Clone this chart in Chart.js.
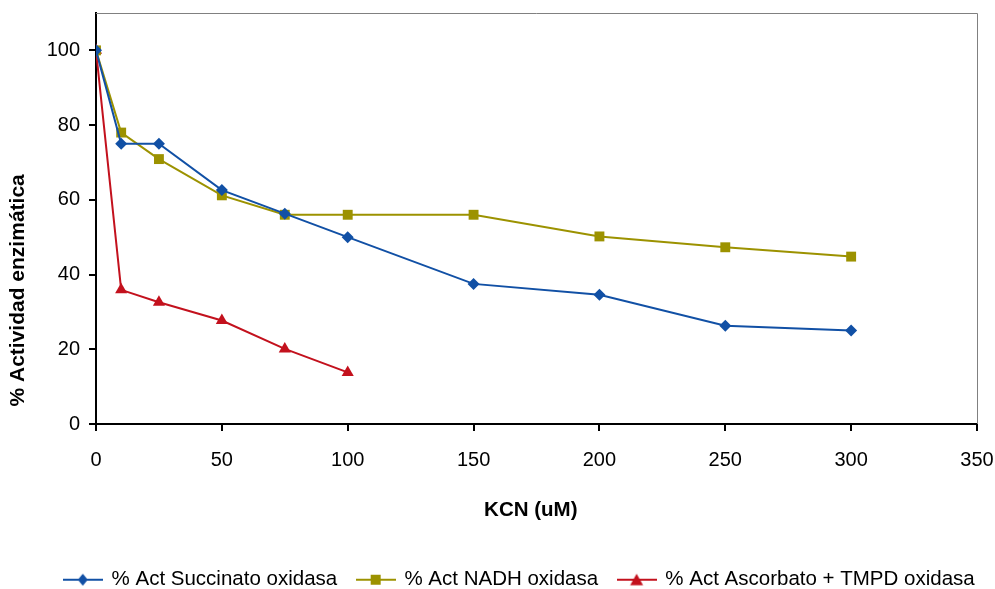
<!DOCTYPE html>
<html>
<head>
<meta charset="utf-8">
<script src="https://cdn.jsdelivr.net/npm/chart.js@4"></script>
<style>
    html, body { margin: 0; padding: 0; background: #ffffff; }
    #wrap { width: 995px; height: 589px; }
</style>
</head>
<body>
<div id="wrap"><canvas id="myChart" width="995" height="589"></canvas></div>
<script>
// datos
const kcn = [0, 10, 25, 50, 75, 100, 150, 200, 250, 300];
const kcnAscorbato = [0, 10, 25, 50, 75, 100];
const succinato = [100, 75, 75, 62.6, 56.3, 50, 37.5, 34.6, 26.3, 25];
const nadh = [100, 78, 70.9, 61.2, 56, 56, 56, 50.2, 47.3, 44.8];
const ascorbato = [100, 35.9, 32.6, 27.7, 20.1, 13.8];
const etiquetas = ['% Act Succinato oxidasa', '% Act NADH oxidasa', '% Act Ascorbato + TMPD oxidasa'];
const colores = ['#1150a5', '#9c9200', '#c3111d'];
const marcadores = ['rectRot', 'rect', 'triangle'];
const tamMarcador = [6, 7, 7];

const fuente = 'Liberation Sans, Arial, sans-serif';

function puntos(xs, ys) {
    let out = [];
    xs.forEach(function (x, i) {
        out.push({ x: x, y: ys[i] });
    });
    return out;
}

// icono de leyenda: linea con marcador en el medio
function iconoLeyenda(color, estilo) {
    let c = document.createElement('canvas');
    c.width = 40;
    c.height = 16;
    let g = c.getContext('2d');
    g.strokeStyle = color;
    g.lineWidth = 2;
    g.beginPath();
    g.moveTo(0, 8);
    g.lineTo(40, 8);
    g.stroke();
    g.fillStyle = color;
    g.beginPath();
    if (estilo === 'rectRot') {
        g.moveTo(20, 2); g.lineTo(25, 8); g.lineTo(20, 14); g.lineTo(15, 8);
    } else if (estilo === 'rect') {
        g.rect(15, 3, 10, 10);
    } else {
        g.moveTo(20, 2); g.lineTo(26.5, 13.5); g.lineTo(13.5, 13.5);
    }
    g.closePath();
    g.fill();
    return c;
}

const series = [puntos(kcn, succinato), puntos(kcn, nadh), puntos(kcnAscorbato, ascorbato)];

const marcoPlugin = {
    id: 'marco',
    afterLayout: function (chart) {
        // la leyenda del original no esta centrada
        if (chart.legend) {
            chart.legend.left += 31;
            chart.legend.right += 31;
        }
    },
    afterDraw: function (chart) {
        const a = chart.chartArea;
        const ctx = chart.ctx;
        ctx.save();
        ctx.strokeStyle = '#808080';
        ctx.lineWidth = 1;
        ctx.beginPath();
        ctx.moveTo(a.left, a.top + 0.5);
        ctx.lineTo(a.right + 0.5, a.top + 0.5);
        ctx.lineTo(a.right + 0.5, a.bottom);
        ctx.stroke();
        ctx.restore();
    }
};

const ctx = document.getElementById('myChart').getContext('2d');
window.myChart = new Chart(ctx, {
    type: 'line',
    data: {
        datasets: series.map(function (d, i) {
            return {
                label: etiquetas[i],
                data: d,
                borderColor: colores[i],
                backgroundColor: colores[i],
                borderWidth: 2,
                pointStyle: marcadores[i],
                pointRadius: tamMarcador[i],
                pointHoverRadius: tamMarcador[i],
                pointBorderWidth: 0,
                fill: false,
                tension: 0,
            };
        }),
    },
    plugins: [marcoPlugin],
    options: {
        responsive: false,
        animation: false,
        layout: { padding: { top: 13, right: 18, left: 0, bottom: -11 } },
        plugins: {
            legend: {
                position: 'bottom',
                labels: {
                    usePointStyle: true,
                    pointStyleWidth: 37,
                    padding: 20,
                    color: '#000000',
                    font: { family: fuente, size: 20.5 },
                    generateLabels: function (chart) {
                        return chart.data.datasets.map(function (ds, i) {
                            return {
                                text: ds.label,
                                pointStyle: iconoLeyenda(colores[i], marcadores[i]),
                                fillStyle: colores[i],
                                strokeStyle: colores[i],
                                lineWidth: 0,
                                fontColor: '#000000',
                                datasetIndex: i,
                            };
                        });
                    },
                },
            },
            tooltip: { enabled: false },
        },
        scales: {
            x: {
                type: 'linear',
                min: 0,
                max: 350,
                ticks: { stepSize: 50, color: '#000000', font: { family: fuente, size: 20 }, padding: 17 },
                grid: { drawOnChartArea: false, drawTicks: true, tickLength: 7, tickColor: '#000000', lineWidth: 2 },
                border: { color: '#000000', width: 2 },
                title: {
                    display: true,
                    text: 'KCN (uM)  ',
                    color: '#000000',
                    font: { family: fuente, size: 20.5, weight: 'bold' },
                    padding: { top: 0, bottom: 27 },
                },
                afterFit: function (scale) {
                    scale.height = 125.5;
                    scale.paddingLeft = 0;
                    scale.paddingRight = 0;
                },
            },
            y: {
                min: 0,
                max: 110,
                ticks: { stepSize: 20, color: '#000000', font: { family: fuente, size: 20 }, padding: 9 },
                afterBuildTicks: function (scale) {
                    scale.ticks = scale.ticks.filter(function (t) { return t.value <= 100; });
                },
                grid: { drawOnChartArea: false, drawTicks: true, tickLength: 7, tickColor: '#000000', lineWidth: 2 },
                border: { color: '#000000', width: 2 },
                title: {
                    display: true,
                    text: '   % Actividad enzimática',
                    align: 'start',
                    color: '#000000',
                    font: { family: fuente, size: 21, weight: 'bold' },
                    padding: { top: 6, bottom: 0 },
                },
                afterFit: function (scale) {
                    scale.width = 96;
                    scale.paddingTop = 0;
                    scale.paddingBottom = 0;
                },
            },
        },
    },
});
</script>
</body>
</html>
